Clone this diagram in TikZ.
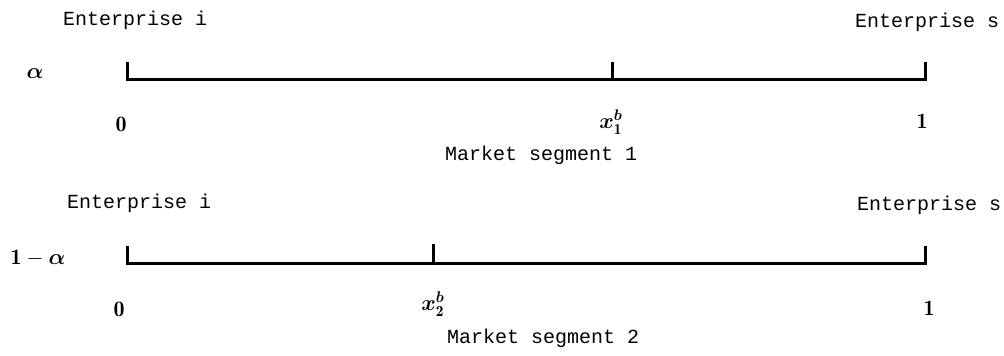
\RequirePackage{fix-cm}
\documentclass[tikz,border=0pt]{standalone}
\usepackage{fontspec}
\usepackage{amsmath,bm}
\setmonofont{Liberation Mono}
\begin{document}
\begin{tikzpicture}[x=1pt,y=-1pt,
  lbl/.style={font=\fontsize{20}{24}\selectfont\ttfamily, inner sep=0pt, anchor=west},
  mth/.style={font=\fontsize{22}{26}\selectfont, inner sep=0pt},
  axisline/.style={line width=3pt, line cap=butt, line join=miter}]
\useasboundingbox (0,0) rectangle (1004,356);
% segment 1
\node[lbl] (ei1) at (63,20) {Enterprise i};
\node[lbl] (es1) at (855,22) {Enterprise s};
\node[mth] (al1) at (35,74) {$\bm{\alpha}$};
\coordinate (a0) at (127,79);
\coordinate (a1) at (925,79);
\coordinate (am) at (612,79);
\coordinate (a0t) at (127,62);
\coordinate (a1t) at (925,62);
\coordinate (amt) at (612,62);
\draw[axisline] (a0t) -- (a0) -- (a1) -- (a1t);
\draw[axisline] (am) -- (amt);
\node[mth] (z1) at (121,124) {$\mathbf{0}$};
\node[mth] (x1) at (611,122) {$\bm{x}_{\mathbf{1}}^{\bm{b}}$};
\node[mth] (o1) at (922,121) {$\mathbf{1}$};
\node[lbl] (ms1) at (445,155) {Market segment 1};
% segment 2
\node[lbl] (ei2) at (67,203) {Enterprise i};
\node[lbl] (es2) at (857,205) {Enterprise s};
\node[mth] (al2) at (38,258) {$\mathbf{1}-\bm{\alpha}$};
\coordinate (b0) at (127,263);
\coordinate (b1) at (925,263);
\coordinate (bm) at (433,263);
\coordinate (b0t) at (127,246);
\coordinate (b1t) at (925,246);
\coordinate (bmt) at (433,244);
\draw[axisline] (b0t) -- (b0) -- (b1) -- (b1t);
\draw[axisline] (bm) -- (bmt);
\node[mth] (z2) at (119,309) {$\mathbf{0}$};
\node[mth] (x2) at (433,304) {$\bm{x}_{\mathbf{2}}^{\bm{b}}$};
\node[mth] (o2) at (929,308) {$\mathbf{1}$};
\node[lbl] (ms2) at (447,338) {Market segment 2};
\end{tikzpicture}
\end{document}
